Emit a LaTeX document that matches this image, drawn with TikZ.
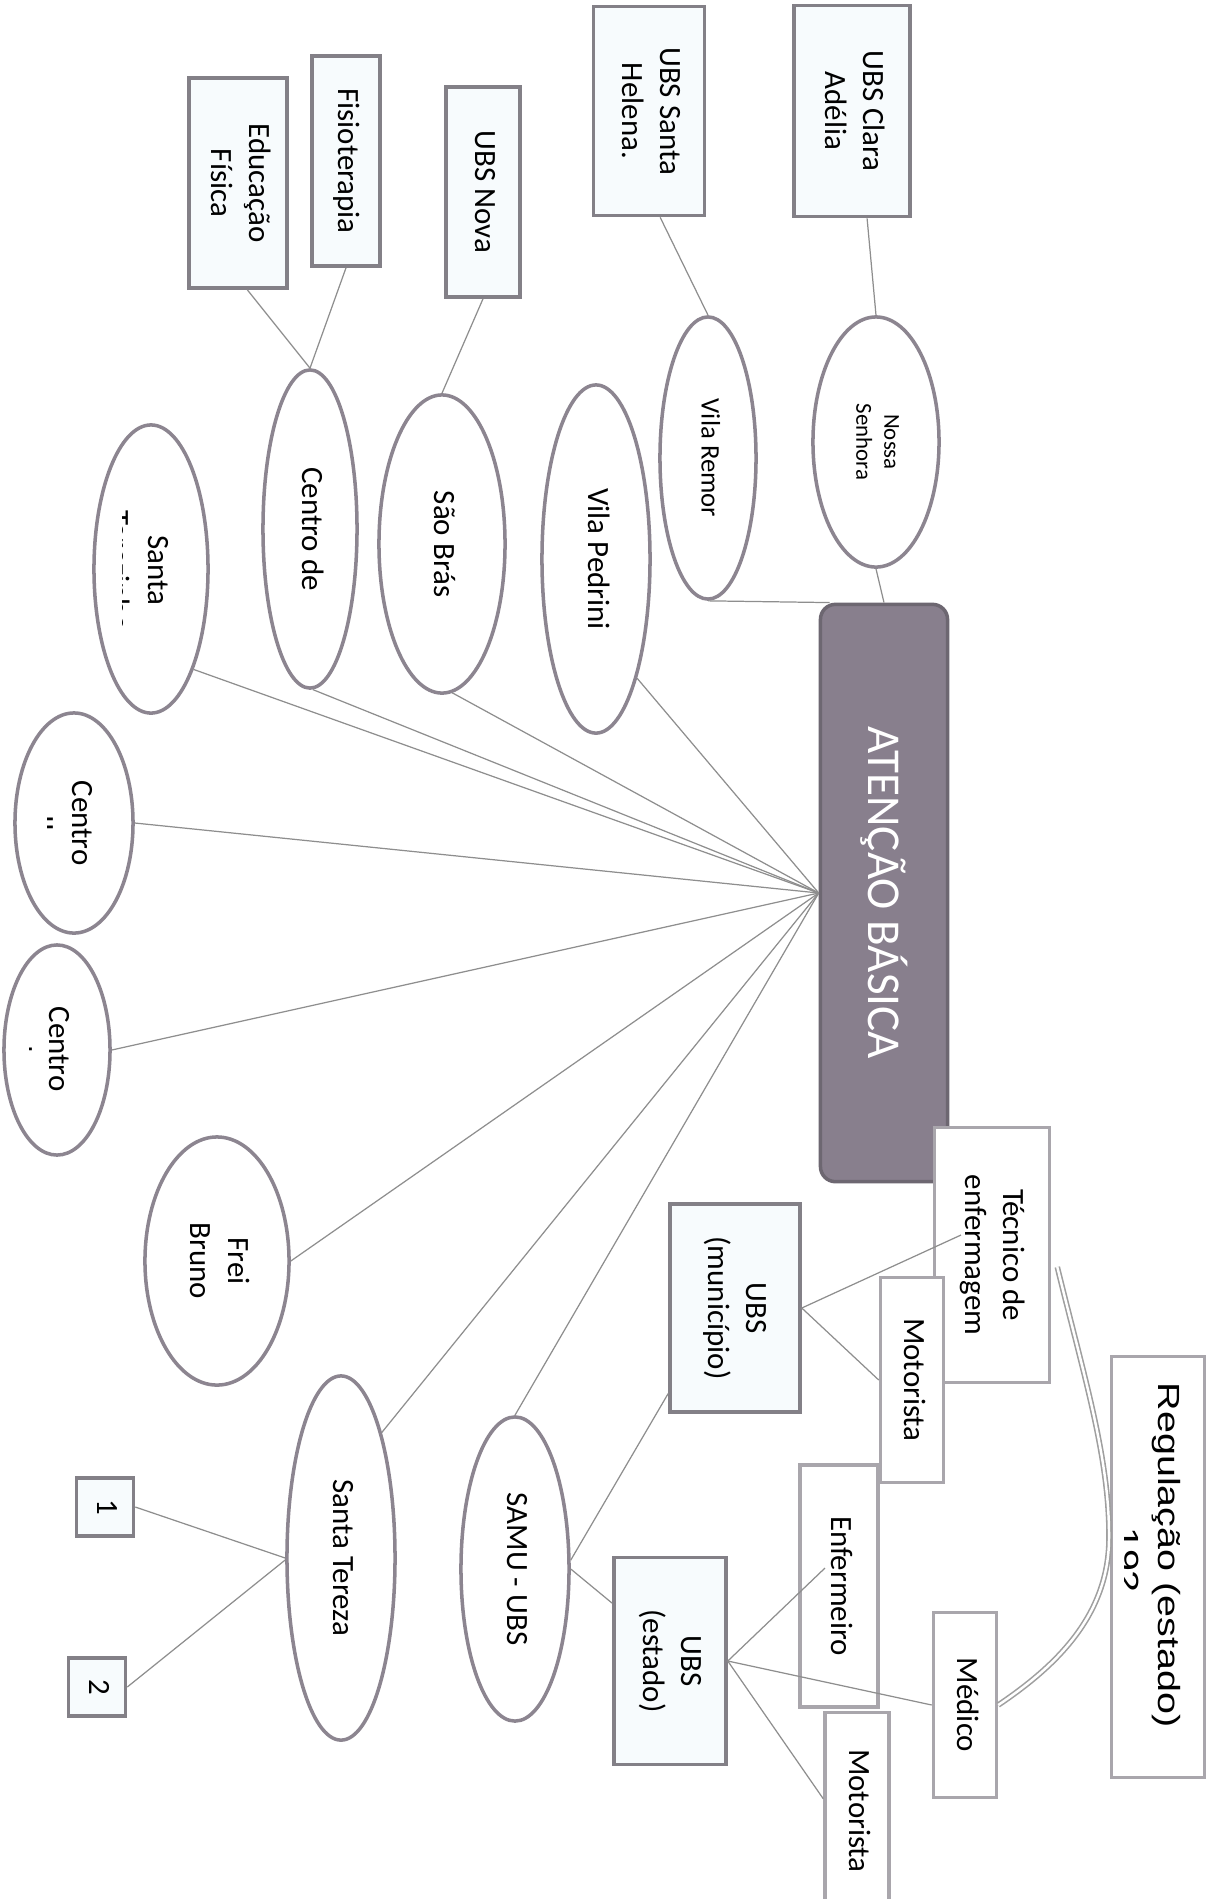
\documentclass[tikz,border=0pt]{standalone}
\usepackage{fontspec}
\setmainfont{Carlito}
\newfontfamily\regfont{Liberation Sans}
\usepackage{graphicx}
\usetikzlibrary{calc,shapes.geometric}

\definecolor{edgegray}{HTML}{838087}
\definecolor{softgray}{HTML}{A9A6AC}
\definecolor{ovalgray}{HTML}{8C8590}
\definecolor{boxfill}{HTML}{F7FBFD}
\definecolor{hubfill}{HTML}{887F8D}
\definecolor{hubline}{HTML}{6D6771}
\definecolor{wire}{HTML}{8E8E8E}

\newcommand{\vtext}[1]{\rotatebox{-90}{\begin{tabular}{@{}c@{}}#1\end{tabular}}}

\tikzset{
  dims/.style 2 args={minimum width=#1cm, minimum height=#2cm},
  box/.style={rectangle, draw=edgegray, line width=1pt, fill=boxfill, inner sep=0pt,
    font=\fontsize{8.8}{10.6}\selectfont},
  softbox/.style={box, draw=softgray, fill=white},
  oval/.style={ellipse, draw=ovalgray, line width=1pt, fill=white, inner sep=0pt,
    font=\fontsize{8.8}{10.6}\selectfont},
  hub/.style={rectangle, rounded corners=0.15cm, draw=hubline, line width=1pt, fill=hubfill,
    text=white, inner sep=0pt, font=\fontsize{13.4}{15}\selectfont},
  cut/.style={rotate=-90, anchor=base, inner sep=0pt, font=\fontsize{8.8}{10.6}\selectfont},
  regtext/.style={font=\regfont\fontsize{8.7}{10}\selectfont},
  link/.style={draw=wire, line width=0.35pt},
  reglink/.style={draw=gray!75, line width=0.45pt, double=white, double distance=0.7pt},
}

\begin{document}
\begin{tikzpicture}[x=0.01cm, y=-0.01cm]
			%%%%% START %%%%%
			\useasboundingbox (0,0) rectangle (1208,1899);
			
			% top boxes
			\node[box, dims={0.98}{2.10}] (educ) at (238,183) {\vtext{Educação\\Física}};
			\node[box, dims={0.68}{2.10}] (fisio) at (346,161) {\vtext{Fisioterapia}};
			\node[box, dims={0.74}{2.10}] (nova) at (483,192) {\vtext{UBS Nova}};
			\node[box, dims={1.11}{2.09}] (helena) at (649,111) {\vtext{UBS Santa\\Helena.}};
			\node[box, dims={1.16}{2.11}] (clara) at (852,111) {\vtext{UBS Clara\\Adélia}};
			
			% bairros
			\node[oval, dims={1.26}{2.50}, font=\fontsize{6.5}{8}\selectfont] (nossa) at (876,442) {\vtext{Nossa\\Senhora}};
			\node[oval, dims={0.96}{2.82}, font=\fontsize{7.6}{9}\selectfont] (remor) at (708,458) {\vtext{Vila Remor}};
			\node[oval, dims={1.08}{3.48}] (pedrini) at (596,559) {\vtext{Vila Pedrini}};
			\node[oval, dims={1.26}{2.98}] (sbras) at (442,544) {\vtext{São Brás}};
			\node[oval, dims={0.94}{3.18}] (centrode) at (310,529) {\vtext{Centro de}};
			\node[oval, dims={1.14}{2.88}] (santa) at (151,569) {};
			\node[oval, dims={1.18}{2.20}] (centroa) at (74,823) {};
			\node[oval, dims={1.06}{2.10}] (centrob) at (57,1050) {};
			\node[oval, dims={1.44}{2.48}] (frei) at (217,1261) {\vtext{Frei\\Bruno}};
			\node[oval, dims={1.08}{3.64}] (tereza) at (341,1558) {\vtext{Santa Tereza}};
			\node[oval, dims={1.08}{3.04}] (samu) at (515,1569) {\vtext{SAMU - UBS}};
			
			% texts cut by their shapes
			\node[cut] (santatxt) at (148,570) {Santa};
			\begin{scope}
				\clip (122,480) rectangle (140,660);
				\node[cut] (santacut) at (108,570) {Terezinha};
			\end{scope}
			\node[cut] (centroatxt) at (73,823) {Centro};
			\begin{scope}
				\clip (47,780) rectangle (60,870);
				\node[cut] (centroacut) at (33,823) {II};
			\end{scope}
			\node[cut] (centrobtxt) at (50,1049) {Centro};
			\begin{scope}
				\clip (29,1000) rectangle (40,1100);
				\node[cut] (centrobcut) at (12,1049) {I};
			\end{scope}
			
			% centre
			\node[hub, dims={1.27}{5.77}] (atencao) at (884,893) {\rotatebox{-90}{ATENÇÃO BÁSICA}};
			
			% right group
			\node[softbox, dims={1.15}{2.55}] (tecnico) at (992,1255) {\vtext{Técnico de\\enfermagem}};
			\node[softbox, dims={0.63}{2.05}] (motora) at (912,1380) {\vtext{Motorista}};
			\node[box, dims={1.30}{2.08}] (ubsmun) at (735,1308) {\vtext{UBS\\(município)}};
			\node[softbox, dims={0.93}{4.21}] (regul) at (1158,1567) {};
			\node[cut, regtext] (regtxt) at (1158,1555) {\scalebox{1.29}[1]{Regulação (estado)}};
			\begin{scope}
				\clip (1124,1500) rectangle (1150,1620);
				\node[cut, regtext] (regcut) at (1117,1560) {\scalebox{1.29}[1]{192}};
			\end{scope}
			\node[softbox, dims={0.78}{2.42}] (enferm) at (839,1586) {\vtext{Enfermeiro}};
			\node[box, dims={1.12}{2.07}] (ubsest) at (670,1661) {\vtext{UBS\\(estado)}};
			\node[softbox, dims={0.63}{1.85}] (medico) at (965,1705) {\vtext{Médico}};
			\node[softbox, dims={0.64}{1.97}] (motorb) at (857,1811) {\vtext{Motorista}};
			
			% small squares
			\node[box, dims={0.57}{0.58}] (one) at (105,1507) {\vtext{1}};
			\node[box, dims={0.57}{0.58}] (two) at (97,1687) {\vtext{2}};
			
			\coordinate (tecpin) at (961,1235);
			\coordinate (enfpin) at (825,1568);
			
			% links
			\draw[link] (educ.-85) -- (centrode.north);
			\draw[link] (fisio.south) -- (centrode.north);
			\draw[link] (nova.south) -- (sbras.north);
			\draw[link] (helena.-84) -- (remor.north);
			\draw[link] (clara.-82) -- (nossa.north);
			\draw[link] (remor.south) -- ($(atencao.north west)+(11,0)$);
			\draw[link] (nossa.south) -- (atencao.north);
			
			\draw[link] (atencao.west) -- (pedrini.-71);
			\draw[link] (atencao.west) -- (sbras.-86);
			\draw[link] (atencao.west) -- (centrode.-89);
			\draw[link] (atencao.west) -- (santa.-67);
			\draw[link] (atencao.west) -- (centroa.east);
			\draw[link] (atencao.west) -- (centrob.east);
			\draw[link] (atencao.west) -- (frei.east);
			\draw[link] (atencao.west) -- (tereza.72);
			\draw[link] (atencao.west) -- (samu.north);
			
			\draw[link] (one.east) -- (tereza.west);
			\draw[link] (two.east) -- (tereza.182);
			
			\draw[link] (samu.9) -- (ubsmun.232);
			\draw[link] (samu.east) -- (ubsest.135);
			\draw[link] (ubsmun.east) -- (tecpin);
			\draw[link] (ubsmun.east) -- (motora.west);
			\draw[link] (ubsest.east) -- (enfpin);
			\draw[link] (ubsest.east) -- (medico.west);
			\draw[link] (ubsest.east) -- (motorb.160);
			
			\draw[reglink] ($(tecnico.east)+(6,12)$) .. controls (1085,1380) and (1110,1460) .. (1109,1540)
				.. controls (1108,1620) and (1050,1670) .. (medico.east);
			
			%%%%% END %%%%%
\end{tikzpicture}
\end{document}
